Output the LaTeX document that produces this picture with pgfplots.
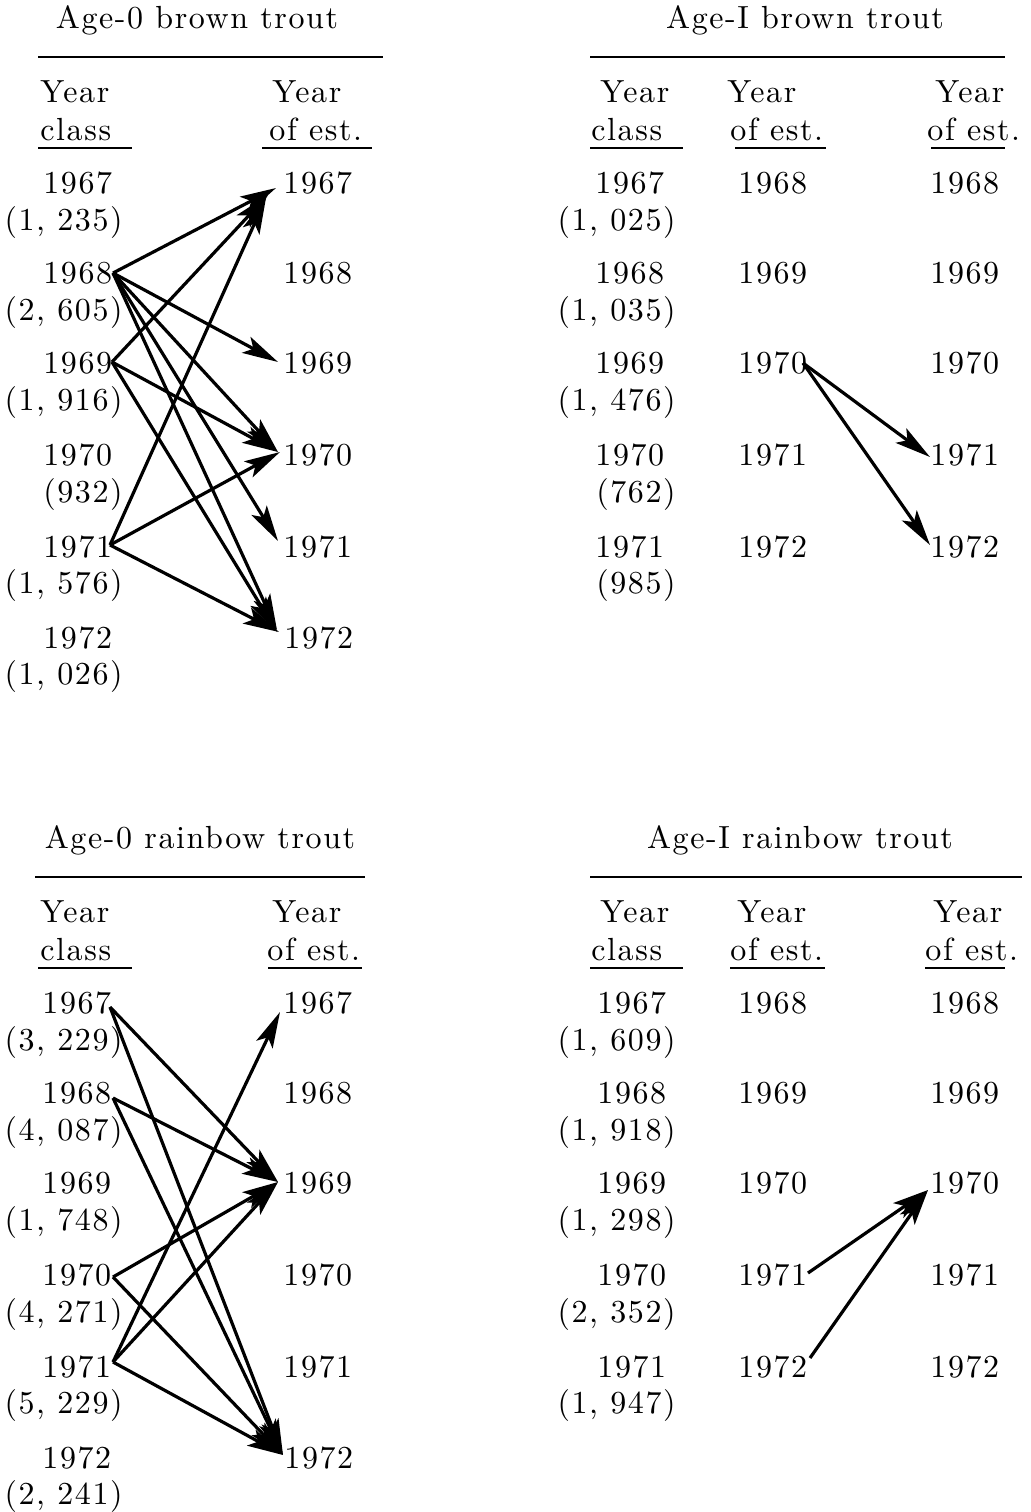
\documentclass[border=0pt]{standalone}
\usepackage{fontspec}
\setmainfont{lmroman10-regular}[Extension=.otf, LetterSpace=5]
\usepackage{pgfplots}
\pgfplotsset{compat=1.18}
\usetikzlibrary{arrows.meta}
\newcommand\chartfont{\fontsize{16}{19}\selectfont}
\begin{document}
\begin{tikzpicture}[font=\chartfont, every node/.append style={inner sep=0pt, font=\chartfont}]
\begin{axis}[
  width=515.5pt, height=756pt, scale only axis,
  xmin=0, xmax=1031, ymin=0, ymax=1512, y dir=reverse,
  hide axis, clip=false,
  rule/.style={line width=1.4pt, black},
  arr/.style={line width=1.6pt, black, -{Stealth[length=18pt,width=9pt,inset=4pt]}},
]
% ---------- rules ----------
\addplot[rule] coordinates {(38,57) (383,57)};
\addplot[rule] coordinates {(38,148) (132,148)};
\addplot[rule] coordinates {(262,148) (372,148)};
\addplot[rule] coordinates {(590,57) (1005,57)};
\addplot[rule] coordinates {(590,148) (683,148)};
\addplot[rule] coordinates {(735,148) (826,148)};
\addplot[rule] coordinates {(931,148) (1005,148)};
\addplot[rule] coordinates {(35,877) (365,877)};
\addplot[rule] coordinates {(38,968) (132,968)};
\addplot[rule] coordinates {(268,968) (362,968)};
\addplot[rule] coordinates {(590,877) (1022,877)};
\addplot[rule] coordinates {(590,968) (683,968)};
\addplot[rule] coordinates {(730,968) (825,968)};
\addplot[rule] coordinates {(925,968) (1005,968)};
% ---------- arrows: Age-0 brown ----------
\addplot[arr] coordinates {(113,273) (276,188)};
\addplot[arr] coordinates {(113,273) (278,362)};
\addplot[arr] coordinates {(113,273) (278,452)};
\addplot[arr] coordinates {(113,273) (278,541)};
\addplot[arr] coordinates {(113,273) (277,630)};
\addplot[arr] coordinates {(112,362) (268,195)};
\addplot[arr] coordinates {(112,362) (278,452)};
\addplot[arr] coordinates {(112,362) (277,632)};
\addplot[arr] coordinates {(110,545) (266,198)};
\addplot[arr] coordinates {(110,545) (280,452)};
\addplot[arr] coordinates {(110,545) (279,632)};
% ---------- arrows: Age-I brown ----------
\addplot[arr] coordinates {(803,363) (930,457)};
\addplot[arr] coordinates {(803,363) (930,545)};
% ---------- arrows: Age-0 rainbow ----------
\addplot[arr] coordinates {(110,1007) (278,1182)};
\addplot[arr] coordinates {(110,1007) (283,1455)};
\addplot[arr] coordinates {(113,1098) (278,1182)};
\addplot[arr] coordinates {(113,1098) (283,1455)};
\addplot[arr] coordinates {(113,1277) (278,1182)};
\addplot[arr] coordinates {(113,1277) (283,1455)};
\addplot[arr] coordinates {(113,1362) (280,1012)};
\addplot[arr] coordinates {(113,1362) (278,1182)};
\addplot[arr] coordinates {(113,1362) (283,1455)};
% ---------- arrows: Age-I rainbow ----------
\addplot[arr] coordinates {(808,1273) (928,1190)};
\addplot[arr] coordinates {(810,1358) (928,1190)};

% ================= texts: Age-0 brown =================
\node[anchor=base] at (axis cs:197,28) {Age-0 brown trout};
\node[anchor=base west] at (axis cs:40,102) {Year};
\node[anchor=base west] at (axis cs:40,140) {class};
\node[anchor=base west] at (axis cs:272,102) {Year};
\node[anchor=base west] at (axis cs:269,140) {of est.};
\node[anchor=base west] at (axis cs:43,193) {1967};
\node[anchor=base west] at (axis cs:43,283) {1968};
\node[anchor=base west] at (axis cs:43,373) {1969};
\node[anchor=base west] at (axis cs:43,465) {1970};
\node[anchor=base west] at (axis cs:43,557) {1971};
\node[anchor=base west] at (axis cs:43,648) {1972};
\node[anchor=base east] at (axis cs:123,230) {(1, 235)};
\node[anchor=base east] at (axis cs:123,320) {(2, 605)};
\node[anchor=base east] at (axis cs:123,410) {(1, 916)};
\node[anchor=base east] at (axis cs:123,502) {(932)};
\node[anchor=base east] at (axis cs:123,593) {(1, 576)};
\node[anchor=base east] at (axis cs:123,684) {(1, 026)};
\node[anchor=base west] at (axis cs:283,193) {1967};
\node[anchor=base west] at (axis cs:283,283) {1968};
\node[anchor=base west] at (axis cs:283,373) {1969};
\node[anchor=base west] at (axis cs:283,465) {1970};
\node[anchor=base west] at (axis cs:283,557) {1971};
\node[anchor=base west] at (axis cs:284,648) {1972};
% ================= texts: Age-I brown =================
\node[anchor=base] at (axis cs:805,28) {Age-I brown trout};
\node[anchor=base west] at (axis cs:600,102) {Year};
\node[anchor=base west] at (axis cs:591,140) {class};
\node[anchor=base west] at (axis cs:727,102) {Year};
\node[anchor=base west] at (axis cs:730,140) {of est.};
\node[anchor=base west] at (axis cs:935,102) {Year};
\node[anchor=base west] at (axis cs:927,140) {of est.};
\node[anchor=base west] at (axis cs:595,193) {1967};
\node[anchor=base west] at (axis cs:595,283) {1968};
\node[anchor=base west] at (axis cs:595,373) {1969};
\node[anchor=base west] at (axis cs:595,465) {1970};
\node[anchor=base west] at (axis cs:595,557) {1971};
\node[anchor=base east] at (axis cs:676,230) {(1, 025)};
\node[anchor=base east] at (axis cs:676,320) {(1, 035)};
\node[anchor=base east] at (axis cs:676,410) {(1, 476)};
\node[anchor=base east] at (axis cs:676,502) {(762)};
\node[anchor=base east] at (axis cs:676,593) {(985)};
\node[anchor=base west] at (axis cs:738,193) {1968};
\node[anchor=base west] at (axis cs:738,283) {1969};
\node[anchor=base west] at (axis cs:738,373) {1970};
\node[anchor=base west] at (axis cs:738,465) {1971};
\node[anchor=base west] at (axis cs:738,557) {1972};
\node[anchor=base west] at (axis cs:930,193) {1968};
\node[anchor=base west] at (axis cs:930,283) {1969};
\node[anchor=base west] at (axis cs:930,373) {1970};
\node[anchor=base west] at (axis cs:930,465) {1971};
\node[anchor=base west] at (axis cs:930,557) {1972};
% ================= texts: Age-0 rainbow =================
\node[anchor=base] at (axis cs:200,848) {Age-0 rainbow trout};
\node[anchor=base west] at (axis cs:40,922) {Year};
\node[anchor=base west] at (axis cs:40,960) {class};
\node[anchor=base west] at (axis cs:272,922) {Year};
\node[anchor=base west] at (axis cs:267,960) {of est.};
\node[anchor=base west] at (axis cs:42,1013) {1967};
\node[anchor=base west] at (axis cs:42,1103) {1968};
\node[anchor=base west] at (axis cs:42,1193) {1969};
\node[anchor=base west] at (axis cs:42,1285) {1970};
\node[anchor=base west] at (axis cs:42,1377) {1971};
\node[anchor=base west] at (axis cs:42,1468) {1972};
\node[anchor=base east] at (axis cs:123,1050) {(3, 229)};
\node[anchor=base east] at (axis cs:123,1140) {(4, 087)};
\node[anchor=base east] at (axis cs:123,1230) {(1, 748)};
\node[anchor=base east] at (axis cs:123,1322) {(4, 271)};
\node[anchor=base east] at (axis cs:123,1413) {(5, 229)};
\node[anchor=base east] at (axis cs:123,1504) {(2, 241)};
\node[anchor=base west] at (axis cs:283,1013) {1967};
\node[anchor=base west] at (axis cs:283,1103) {1968};
\node[anchor=base west] at (axis cs:283,1193) {1969};
\node[anchor=base west] at (axis cs:283,1285) {1970};
\node[anchor=base west] at (axis cs:283,1377) {1971};
\node[anchor=base west] at (axis cs:284,1468) {1972};
% ================= texts: Age-I rainbow =================
\node[anchor=base] at (axis cs:800,848) {Age-I rainbow trout};
\node[anchor=base west] at (axis cs:600,922) {Year};
\node[anchor=base west] at (axis cs:591,960) {class};
\node[anchor=base west] at (axis cs:737,922) {Year};
\node[anchor=base west] at (axis cs:730,960) {of est.};
\node[anchor=base west] at (axis cs:933,922) {Year};
\node[anchor=base west] at (axis cs:925,960) {of est.};
\node[anchor=base west] at (axis cs:597,1013) {1967};
\node[anchor=base west] at (axis cs:597,1103) {1968};
\node[anchor=base west] at (axis cs:597,1193) {1969};
\node[anchor=base west] at (axis cs:597,1285) {1970};
\node[anchor=base west] at (axis cs:597,1377) {1971};
\node[anchor=base east] at (axis cs:676,1050) {(1, 609)};
\node[anchor=base east] at (axis cs:676,1140) {(1, 918)};
\node[anchor=base east] at (axis cs:676,1230) {(1, 298)};
\node[anchor=base east] at (axis cs:676,1322) {(2, 352)};
\node[anchor=base east] at (axis cs:676,1413) {(1, 947)};
\node[anchor=base west] at (axis cs:738,1013) {1968};
\node[anchor=base west] at (axis cs:738,1103) {1969};
\node[anchor=base west] at (axis cs:738,1193) {1970};
\node[anchor=base west] at (axis cs:738,1285) {1971};
\node[anchor=base west] at (axis cs:738,1377) {1972};
\node[anchor=base west] at (axis cs:930,1013) {1968};
\node[anchor=base west] at (axis cs:930,1103) {1969};
\node[anchor=base west] at (axis cs:930,1193) {1970};
\node[anchor=base west] at (axis cs:930,1285) {1971};
\node[anchor=base west] at (axis cs:930,1377) {1972};
\end{axis}
\pgfresetboundingbox
\path (current axis.south west) rectangle (current axis.north east);
\end{tikzpicture}
\end{document}
